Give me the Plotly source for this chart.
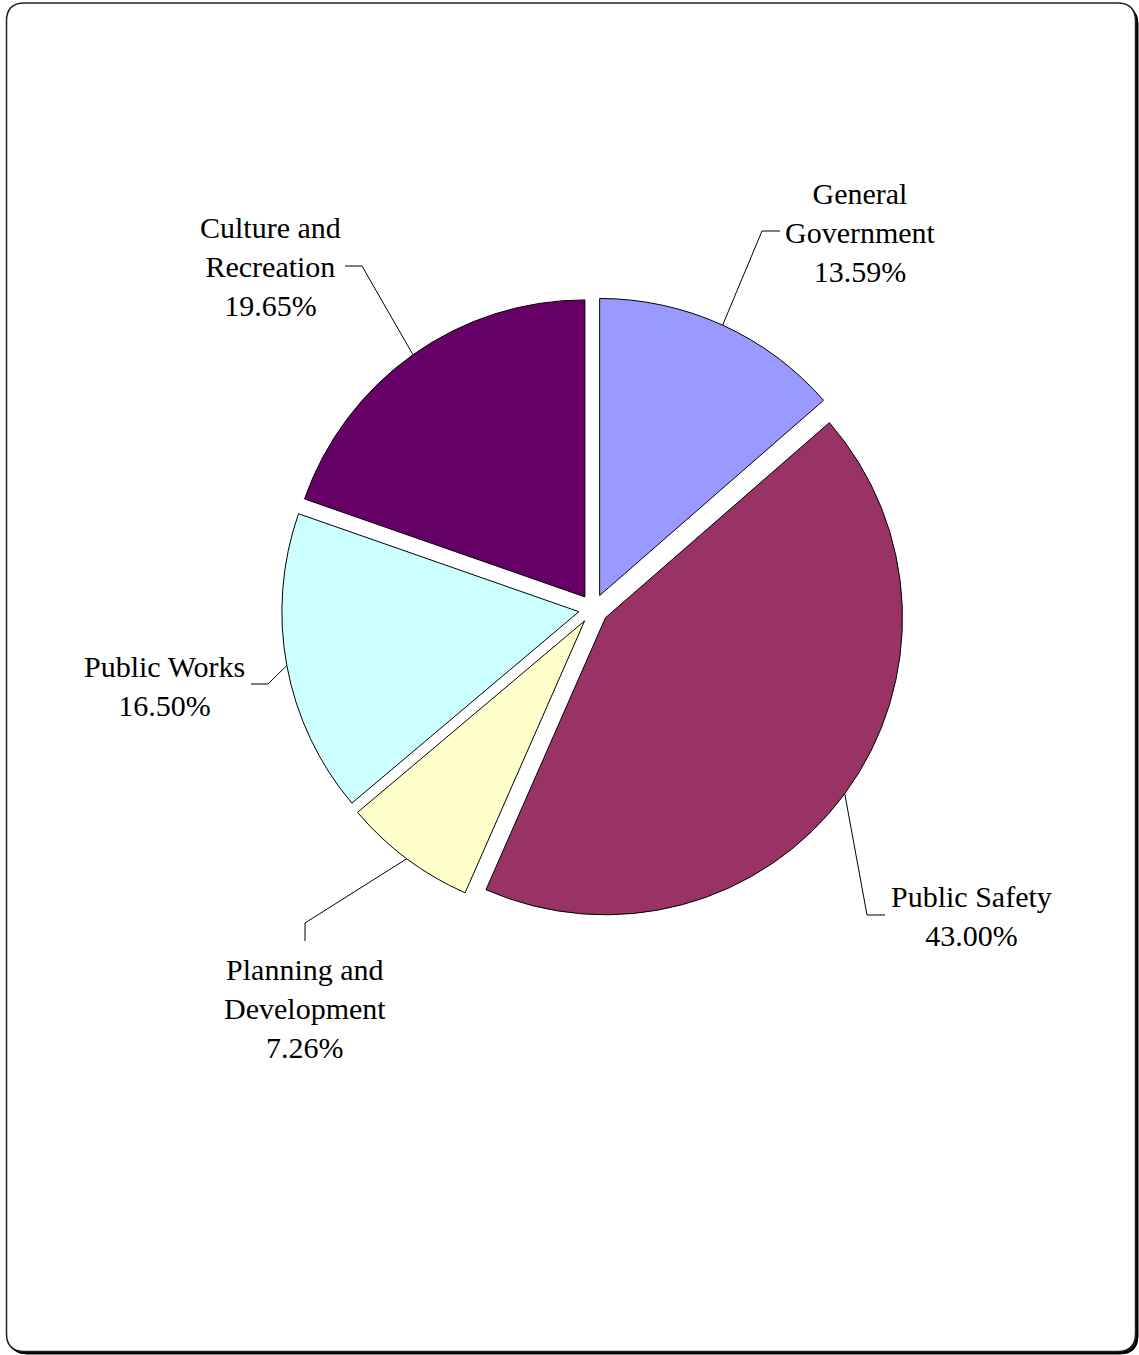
import math
import plotly.graph_objects as go

# ---- data ----
categories = ["General Government", "Public Safety", "Planning and Development",
              "Public Works", "Culture and Recreation"]
label_text = ["General<br>Government", "Public Safety", "Planning and<br>Development",
              "Public Works", "Culture and<br>Recreation"]
values = [13.59, 43.00, 7.26, 16.50, 19.65]
colors = ["#9999FF", "#993366", "#FFFFCC", "#CCFFFF", "#660066"]

# ---- layout constants (pixels) ----
W, H = 1139, 1355
CX, CY = 593.5, 609.0      # pie centre
R = 297.0                  # pie radius
PULL = 0.05
HALF = R * (1 + PULL)

# label centres and leader elbow / end points (layout)
label_pos = [(860, 232), (971, 916), (305, 1008), (164, 686), (270, 266)]
leader_elbow = [(762, 231), (867, 915), (305, 923), (268, 684), (362, 266)]
leader_end = [(780, 231), (885, 915), (305, 941), (251, 684), (345, 266)]


def px(x):
    return x / W


def py(y):
    return 1 - y / H


fig = go.Figure()
fig.add_trace(go.Pie(
    labels=categories,
    values=values,
    sort=False,
    direction="clockwise",
    rotation=0,
    pull=[PULL] * len(values),
    marker=dict(colors=colors, line=dict(color="black", width=1)),
    textinfo="none",
    hoverinfo="label+percent",
    showlegend=False,
    domain=dict(x=[px(CX - HALF), px(CX + HALF)], y=[py(CY + HALF), py(CY - HALF)]),
))

shapes = []


def rrect(x0, y0, x1, y1, r):
    return (f"M {px(x0 + r)},{py(y0)} L {px(x1 - r)},{py(y0)} "
            f"Q {px(x1)},{py(y0)} {px(x1)},{py(y0 + r)} "
            f"L {px(x1)},{py(y1 - r)} Q {px(x1)},{py(y1)} {px(x1 - r)},{py(y1)} "
            f"L {px(x0 + r)},{py(y1)} Q {px(x0)},{py(y1)} {px(x0)},{py(y1 - r)} "
            f"L {px(x0)},{py(y0 + r)} Q {px(x0)},{py(y0)} {px(x0 + r)},{py(y0)} Z")


# shadow + border
shapes.append(dict(type="path", xref="paper", yref="paper", layer="below",
                   path=rrect(9, 6, 1138, 1354, 18), fillcolor="black",
                   line=dict(color="black", width=1)))
shapes.append(dict(type="path", xref="paper", yref="paper", layer="below",
                   path=rrect(6.5, 3, 1135.5, 1351.5, 18), fillcolor="white",
                   line=dict(color="#222222", width=1.5)))

annotations = []
total = sum(values)
cum = 0.0
for i, v in enumerate(values):
    mid = (cum + v / 2) / total * 2 * math.pi
    cum += v
    dx, dy = math.sin(mid), -math.cos(mid)
    ax, ay = CX + (R + R * PULL) * dx, CY + (R + R * PULL) * dy
    ex, ey = leader_elbow[i]
    tx, ty = leader_end[i]
    shapes.append(dict(type="path", xref="paper", yref="paper",
                       path=f"M {px(ax)},{py(ay)} L {px(ex)},{py(ey)} L {px(tx)},{py(ty)}",
                       line=dict(color="black", width=1)))
    lx, ly = label_pos[i]
    annotations.append(dict(
        x=px(lx), y=py(ly), xref="paper", yref="paper",
        text=f"{label_text[i]}<br>{v:.2f}%", showarrow=False,
        xanchor="center", yanchor="middle", align="center",
        font=dict(family="Liberation Serif, Times New Roman, serif", size=30, color="black"),
    ))

fig.update_layout(
    width=W, height=H,
    margin=dict(l=0, r=0, t=0, b=0),
    paper_bgcolor="white",
    plot_bgcolor="white",
    shapes=shapes,
    annotations=annotations,
    showlegend=False,
)

fig.write_html("out.html",
               config={"displayModeBar": False},
               post_script="document.body.style.margin='0';document.body.style.overflow='hidden';")
